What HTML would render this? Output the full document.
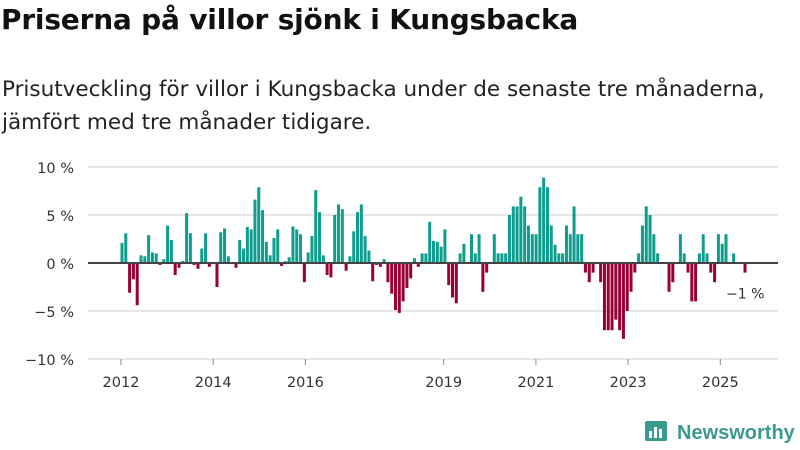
<!DOCTYPE html>
<html><head><meta charset="utf-8">
<style>
body{margin:0;width:800px;height:450px;background:#fff;font-family:"DejaVu Sans","Liberation Sans",sans-serif;color:#222;overflow:hidden;position:relative}
h1{position:absolute;left:1px;top:3px;margin:0;font-size:28px;font-weight:bold;color:#111;letter-spacing:-0.2px}
.sub{position:absolute;left:2px;top:73px;margin:0;font-size:21.5px;line-height:33px;color:#222;letter-spacing:0px}
svg{position:absolute;left:0;top:0}
.logo{position:absolute;left:645px;top:419px;font-size:20px;font-weight:bold;color:#3a9a8e;font-family:"Liberation Sans",sans-serif}
</style></head><body>
<h1>Priserna på villor sjönk i Kungsbacka</h1>
<p class="sub">Prisutveckling för villor i Kungsbacka under de senaste tre månaderna,<br>jämfört med tre månader tidigare.</p>
<svg id="chart" width="800" height="450"></svg>
<div class="logo"><svg width="24" height="24" viewBox="0 0 24 24" style="vertical-align:-4px;margin-right:8px;position:static"><rect x="0" y="2" width="22" height="20" rx="2" fill="#3a9a8e"/><rect x="4" y="12" width="3" height="7" fill="#fff"/><rect x="9" y="8" width="3" height="11" fill="#fff"/><rect x="14" y="10" width="3" height="9" fill="#fff"/></svg>Newsworthy</div>
<script>
const values = [2.1,3.1,-3.1,-1.7,-4.4,0.8,0.7,2.9,1.1,1.0,-0.2,0.4,3.9,2.4,-1.25,-0.5,0.2,5.2,3.1,-0.2,-0.6,1.5,3.1,-0.4,0,-2.5,3.2,3.6,0.7,0,-0.5,2.4,1.5,3.75,3.5,6.6,7.9,5.5,2.2,0.8,2.6,3.5,-0.3,0.2,0.6,3.8,3.5,3.0,-2.0,1.1,2.8,7.6,5.3,0.8,-1.25,
-1.5,5.0,6.1,5.6,-0.8,0.7,3.3,5.3,6.1,2.8,1.3,-1.9,-0.2,-0.4,0.4,-2.0,-3.2,-4.9,-5.2,-4.0,-2.6,-1.6,0.5,-0.4,1.0,1.0,4.3,2.3,2.2,1.7,3.5,-2.3,-3.6,-4.2,1.0,2.0,0,3.0,1.0,3.0,-3.0,-1.0,0,3.0,1.0,1.0,1.0,5.0,5.9,5.9,6.9,5.9,3.9,3.0,3.0,7.9,
8.9,7.9,3.9,1.9,1.0,1.0,3.9,3.0,5.9,3.0,3.0,-1.0,-2.0,-1.0,0,-2.0,-7,-7,-7,-5.9,-7,-7.9,-5,-3,-1,1.0,3.9,5.9,5.0,3.0,1.0,0,0,-3.0,-2.0,0,3.0,1.0,-1.0,-4.0,-4.0,1.0,3.0,1.0,-1.0,-2.0,3.0,2.0,3.0,0,1.0,0,0,-1.0];
const yTicks = [10,5,0,-5,-10];
const yTickLabels = ["10 %","5 %","0 %","−5 %","−10 %"];
const xTickYears = [2012,2014,2016,2019,2021,2023,2025];
const lastLabel = "−1 %";

const svg = document.getElementById('chart');
const NS = 'http://www.w3.org/2000/svg';
const y = v => 263 - v*9.6;
const firstX = 122, lastX = 745;
const step = (lastX-firstX)/(values.length-1);
const x = i => firstX + i*step;
const xYear = yr => 121 + (yr-2012)*46.1;
function mk(t, a){const e=document.createElementNS(NS,t);for(const k in a)e.setAttribute(k,a[k]);svg.appendChild(e);return e;}

yTicks.forEach((t,i)=>{
  if(t!==0){const g=mk('line',{x1:88,x2:778,y1:y(t),y2:y(t),stroke:'#ddd','stroke-width':1.5});
  
  }
  const l=mk('text',{x:74,y:y(t)+6,'text-anchor':'end','font-size':14.5,fill:'#333'});
  l.textContent=yTickLabels[i];
  
  
});
values.forEach((v,i)=>{
  const top=Math.min(y(v),y(0)), h=Math.abs(y(v)-y(0));
  const b=mk('rect',{x:x(i)-1.5,y:top,width:3,height:h,fill:v>=0?'#0f9d8e':'#990035'});
  
  
});
const z=mk('line',{x1:88,x2:778,y1:y(0),y2:y(0),stroke:'#444','stroke-width':2});


xTickYears.forEach(yr=>{
  const tk=mk('line',{x1:xYear(yr),x2:xYear(yr),y1:359,y2:365,stroke:'#888','stroke-width':1});
  
  
  const l=mk('text',{x:xYear(yr),y:387,'text-anchor':'middle','font-size':14.5,fill:'#333'});
  l.textContent=yr;
  
  
});
const ll=mk('text',{x:726,y:y(values[values.length-1])+26,'font-size':14,fill:'#333'});
ll.textContent=lastLabel;


</script>
</body></html>
